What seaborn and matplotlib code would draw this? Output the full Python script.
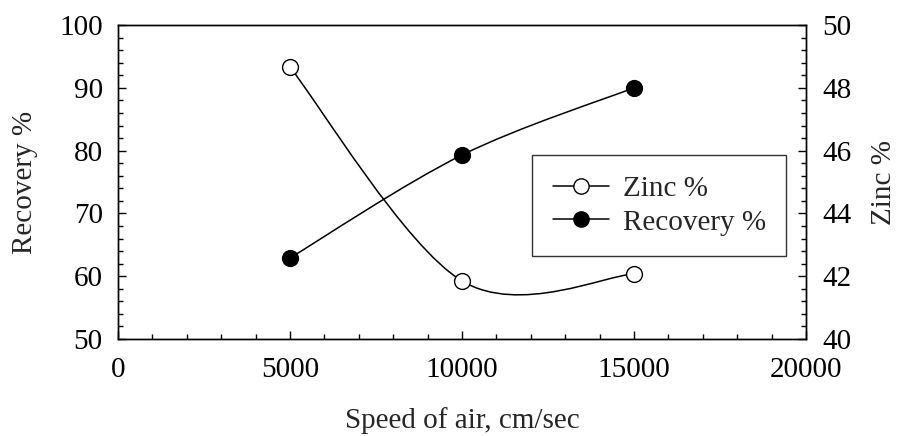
import matplotlib
matplotlib.use("Agg")
import matplotlib.pyplot as plt
from matplotlib.path import Path
from matplotlib.patches import PathPatch
from matplotlib.lines import Line2D
from matplotlib.ticker import MultipleLocator
import seaborn as sns
import pandas as pd

# data
speed = [5000, 10000, 15000]
recovery = [62.9, 79.3, 90.0]
zinc = [48.66, 41.85, 42.07]

sns.set_style("ticks")
plt.rcParams['font.family'] = ['Liberation Serif', 'DejaVu Serif']
plt.rcParams['font.size'] = 21


def smooth_path(xs, ys):
    # Catmull-Rom style cubic bezier through the points (like a spreadsheet "smoothed line")
    pts = list(zip(xs, ys))
    verts = [pts[0]]
    codes = [Path.MOVETO]
    n = len(pts)
    for i in range(n - 1):
        p0 = pts[i - 1] if i > 0 else pts[i]
        p1 = pts[i]
        p2 = pts[i + 1]
        p3 = pts[i + 2] if i + 2 < n else pts[i + 1]
        c1 = (p1[0] + (p2[0] - p0[0]) / 6, p1[1] + (p2[1] - p0[1]) / 6)
        c2 = (p2[0] - (p3[0] - p1[0]) / 6, p2[1] - (p3[1] - p1[1]) / 6)
        verts += [c1, c2, p2]
        codes += [Path.CURVE4] * 3
    return Path(verts, codes)


df = pd.DataFrame({"speed": speed, "recovery": recovery, "zinc": zinc})

fig = plt.figure(figsize=(9.04, 4.36), dpi=100)
ax = fig.add_axes([0.1305, 0.2225, 0.761, 0.72])
ax2 = ax.twinx()

# recovery on left axis
ax.add_patch(PathPatch(smooth_path(speed, recovery), fill=False, edgecolor="black", lw=1.1, zorder=2))
sns.scatterplot(data=df, x="speed", y="recovery", ax=ax, color="black", edgecolor="black",
                s=130, linewidth=1, zorder=3, legend=False)

# zinc on right axis
ax2.add_patch(PathPatch(smooth_path(speed, zinc), fill=False, edgecolor="black", lw=1.1, zorder=2))
sns.scatterplot(data=df, x="speed", y="zinc", ax=ax2, color="white", edgecolor="black",
                s=130, linewidth=1, zorder=3, legend=False)

ax.set_xlim(0, 20000)
ax.set_ylim(50, 100)
ax2.set_ylim(40, 50)

ax.xaxis.set_major_locator(MultipleLocator(5000))
ax.xaxis.set_minor_locator(MultipleLocator(1000))
ax.yaxis.set_major_locator(MultipleLocator(10))
ax.yaxis.set_minor_locator(MultipleLocator(2))
ax2.yaxis.set_major_locator(MultipleLocator(2))
ax2.yaxis.set_minor_locator(MultipleLocator(0.4))

for a in (ax, ax2):
    for s in a.spines.values():
        s.set_linewidth(1.0)
        s.set_color("black")
    a.tick_params(which="major", direction="in", length=6, width=1, colors="black", labelsize=21)
    a.tick_params(which="minor", direction="in", length=3.5, width=1, colors="black")
ax.tick_params(axis="x", which="both", top=False, pad=13)
ax.tick_params(axis="y", which="both", right=False, pad=11)
ax2.tick_params(axis="y", which="both", left=False, pad=12)

ax.set_xlabel("Speed of air, cm/sec", fontsize=21, labelpad=17)
ax.set_ylabel("Recovery %", fontsize=21, labelpad=15)
ax2.set_ylabel("Zinc %", fontsize=21, labelpad=14)

handles = [
    Line2D([], [], color="black", lw=1.1, marker="o", markersize=11, markerfacecolor="white",
           markeredgecolor="black", label="Zinc %"),
    Line2D([], [], color="black", lw=1.1, marker="o", markersize=11, markerfacecolor="black",
           markeredgecolor="black", label="Recovery %"),
]
leg = ax2.legend(handles=handles, loc="upper left", bbox_to_anchor=(0.602, 0.586),
                 borderaxespad=0, frameon=True, fancybox=False, fontsize=21,
                 handlelength=1.95, borderpad=0.7, labelspacing=0.25, handletextpad=0.45)
leg.get_frame().set_edgecolor("black")
leg.get_frame().set_linewidth(1.0)

fig.savefig("out.png", dpi=100)
